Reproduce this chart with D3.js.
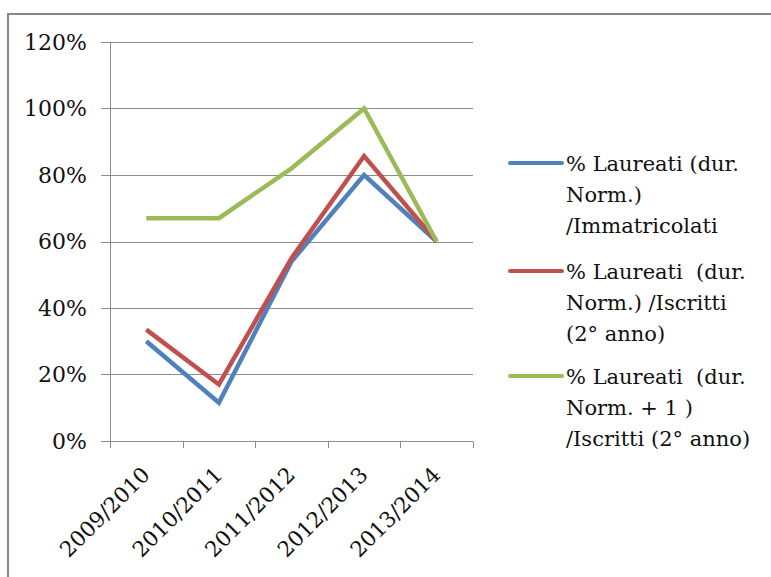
<!DOCTYPE html>
<html>
<head>
<meta charset="utf-8">
<script src="https://cdn.jsdelivr.net/npm/d3@7"></script>
<style>
  body { margin: 0; background: #fff; }
  svg { display: block; font-family: 'DejaVu Serif', serif; }
</style>
</head>
<body>
<svg id="chart" width="771" height="577"></svg>
<script>
// ##### Data
var years = ['2009/2010', '2010/2011', '2011/2012', '2012/2013', '2013/2014'];
var yTicks = [0, 0.2, 0.4, 0.6, 0.8, 1.0, 1.2];

var laureatiImmatricolati = [0.30, 0.115, 0.54, 0.80, 0.60];
var laureatiIscritti = [0.335, 0.17, 0.55, 0.857, 0.60];
var laureatiIscrittiPlus1 = [0.67, 0.67, 0.82, 1.00, 0.60];

var seriesNames = [
  ['% Laureati (dur.', 'Norm.)', '/Immatricolati'],
  ['% Laureati\u00a0 (dur.', 'Norm.) /Iscritti', '(2\u00b0 anno)'],
  ['% Laureati\u00a0 (dur.', 'Norm. + 1 )', '/Iscritti (2\u00b0 anno)']
];
var seriesValues = [laureatiImmatricolati, laureatiIscritti, laureatiIscrittiPlus1];
var seriesColours = ['#4f81bd', '#c0504d', '#9bbb59'];


// ##### Layout
var svg = d3.select('#chart');
var plot = { left: 110, right: 473, top: 42, bottom: 441 };

// Outer frame of the chart (the right and bottom edges are off the picture)
svg.append('path')
  .attr('d', 'M8,590 V14 H790')
  .attr('fill', 'none')
  .attr('stroke', '#878787')
  .attr('stroke-width', 2);


// ##### Scales
var x = d3.scaleBand().domain(years).range([plot.left, plot.right]);
var y = d3.scaleLinear().domain([0, 1.2]).range([plot.bottom, plot.top]);


// ##### Grid and axes
var g = svg.append('g');

g.append('g')
  .selectAll('line')
  .data(yTicks)
  .enter()
  .append('line')
  .attr('x1', plot.left - 9)
  .attr('x2', plot.right)
  .attr('y1', function(d) { return Math.round(y(d)) + 0.5; })
  .attr('y2', function(d) { return Math.round(y(d)) + 0.5; })
  .attr('stroke', '#8c8c8c')
  .attr('stroke-width', 1);

// Vertical axis line
g.append('line')
  .attr('x1', plot.left + 0.5).attr('x2', plot.left + 0.5)
  .attr('y1', plot.top).attr('y2', plot.bottom)
  .attr('stroke', '#8c8c8c');

// Category ticks under the horizontal axis
var tickXs = years.map(function(d) { return x(d); }).concat([plot.right]);
g.append('g')
  .selectAll('line')
  .data(tickXs)
  .enter()
  .append('line')
  .attr('x1', function(d) { return Math.round(d) + 0.5; })
  .attr('x2', function(d) { return Math.round(d) + 0.5; })
  .attr('y1', Math.round(plot.bottom) + 0.5)
  .attr('y2', plot.bottom + 7)
  .attr('stroke', '#8c8c8c');

// Y tick labels
g.append('g')
  .selectAll('text')
  .data(yTicks)
  .enter()
  .append('text')
  .attr('x', 87)
  .attr('y', function(d) { return y(d); })
  .attr('dy', '0.36em')
  .attr('text-anchor', 'end')
  .attr('font-size', 22)
  .attr('fill', '#111')
  .text(d3.format('.0%'));

// X tick labels, rotated
g.append('g')
  .selectAll('text')
  .data(years)
  .enter()
  .append('text')
  .attr('transform', function(d) {
    return 'translate(' + (x(d) + x.bandwidth() / 2 + 5) + ',476) rotate(-45)';
  })
  .attr('text-anchor', 'end')
  .attr('font-size', 21.5)
  .attr('fill', '#111')
  .text(function(d) { return d; });


// ##### Lines
var line = d3.line()
  .x(function(d, i) { return x(years[i]) + x.bandwidth() / 2; })
  .y(function(d) { return y(d); });

svg.append('g')
  .selectAll('path')
  .data(seriesValues)
  .enter()
  .append('path')
  .attr('d', line)
  .attr('fill', 'none')
  .attr('stroke', function(d, i) { return seriesColours[i]; })
  .attr('stroke-width', 4.5)
  .attr('stroke-linejoin', 'miter');


// ##### Legend
var legendTops = [163, 271, 376];
var legend = svg.append('g')
  .selectAll('g')
  .data(seriesNames)
  .enter()
  .append('g')
  .attr('transform', function(d, i) { return 'translate(510,' + legendTops[i] + ')'; });

legend.append('line')
  .attr('x1', 0).attr('x2', 52)
  .attr('stroke', function(d, i) { return seriesColours[i]; })
  .attr('stroke-width', 4)
  .attr('stroke-linecap', 'round');

legend.append('text')
  .attr('x', 56)
  .attr('font-size', 21)
  .attr('fill', '#111')
  .selectAll('tspan')
  .data(function(d) { return d; })
  .enter()
  .append('tspan')
  .attr('x', 56)
  .attr('y', function(d, i) { return i * 31; })
  .attr('dy', '0.36em')
  .text(function(d) { return d; });
</script>
</body>
</html>
